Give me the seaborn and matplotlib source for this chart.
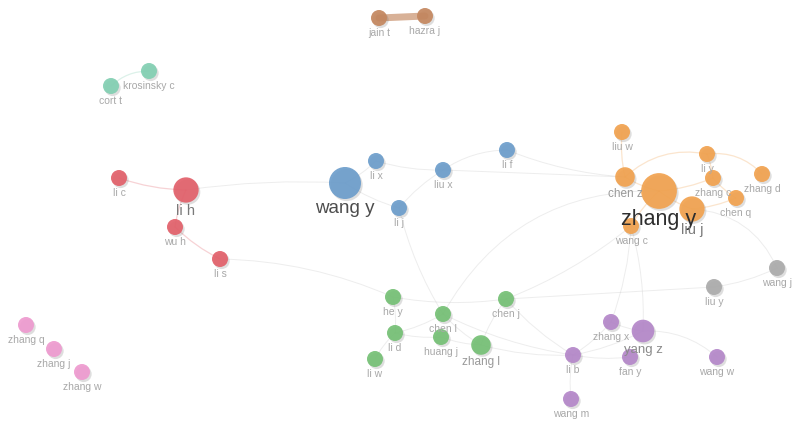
import numpy as np
import pandas as pd
import matplotlib
matplotlib.use("Agg")
import matplotlib.pyplot as plt
import matplotlib.patheffects as pe
from matplotlib.patches import FancyArrowPatch
import seaborn as sns

# co-authorship map, layout coordinates
names = [
    "liu w", "chen z", "zhang y", "liu j", "li y", "zhang c", "chen q", "zhang d", "wang c",
    "wang y", "li x", "liu x", "li f", "li j",
    "li c", "li h", "wu h", "li s",
    "he y", "chen l", "li d", "huang j", "zhang l", "li w", "chen j",
    "zhang x", "yang z", "li b", "fan y", "wang w", "wang m",
    "liu y", "wang j",
    "zhang q", "zhang j", "zhang w",
    "cort t", "krosinsky c",
    "jain t", "hazra j",
]
layout_x = [622, 625, 659, 692, 707, 713, 736, 762, 631,
            345, 376, 443, 507, 399,
            119, 186, 175, 220,
            393, 443, 395, 441, 481, 375, 506,
            611, 643, 573, 630, 717, 571,
            714, 777,
            26, 54, 82,
            111, 149,
            379, 425]
layout_y = [132, 177, 191, 209, 154, 178, 198, 174, 226,
            183, 161, 170, 150, 208,
            178, 190, 227, 259,
            297, 314, 333, 337, 345, 359, 299,
            322, 331, 355, 357, 357, 399,
            287, 268,
            325, 349, 372,
            86, 71,
            18, 16]
cluster = [1] * 9 + [2] * 5 + [3] * 4 + [4] * 7 + [5] * 6 + [6] * 2 + [7] * 3 + [8] * 2 + [9] * 2
weight = [2, 3, 10, 5, 2, 2, 2, 2, 2,
          8, 2, 2, 2, 2,
          2, 5, 2, 2,
          2, 2, 2, 2, 3, 2, 2,
          2, 4, 2, 2, 2, 2,
          2, 2,
          2, 2, 2,
          2, 2,
          2, 2]

links = [
    ("liu w", "chen z"), ("chen z", "zhang y"), ("zhang y", "liu j"), ("zhang y", "zhang c"),
    ("zhang c", "li y"), ("li y", "chen z"), ("zhang c", "chen q"), ("liu j", "chen q"),
    ("li y", "zhang d"), ("zhang y", "wang c"), ("liu j", "wang j"), ("liu y", "wang j"),
    ("wang y", "li x"), ("wang y", "li j"), ("li x", "liu x"), ("liu x", "li f"),
    ("liu x", "li j"), ("liu x", "chen z"), ("li f", "chen z"),
    ("li c", "li h"), ("li h", "wang y"), ("wu h", "li s"), ("li h", "wu h"),
    ("li s", "he y"), ("li j", "chen l"),
    ("he y", "chen j"), ("chen j", "liu y"), ("li d", "he y"), ("li d", "li w"),
    ("li d", "chen l"), ("li d", "huang j"), ("chen l", "zhang l"), ("huang j", "zhang l"),
    ("chen j", "zhang l"), ("chen j", "wang c"), ("chen l", "zhang y"), ("chen j", "li b"),
    ("zhang l", "li b"), ("chen l", "li b"),
    ("zhang x", "wang c"), ("yang z", "wang c"), ("yang z", "wang w"), ("li b", "zhang x"),
    ("li b", "yang z"), ("li b", "fan y"), ("li b", "wang m"), ("zhang x", "yang z"),
    ("cort t", "krosinsky c"), ("jain t", "hazra j"),
]
bend = {("li y", "chen z"): 0.25, ("li y", "zhang d"): -0.25, ("liu j", "wang j"): -0.3,
        ("chen l", "zhang y"): -0.3, ("liu x", "li f"): -0.15, ("li s", "he y"): -0.1,
        ("yang z", "wang w"): -0.2, ("li h", "wang y"): -0.05, ("cort t", "krosinsky c"): -0.2,
        ("jain t", "hazra j"): 0.0, ("liu x", "chen z"): 0.0, ("chen j", "liu y"): 0.0}

palette = {1: "#F1A24F", 2: "#6C9DCB", 3: "#E2606A", 4: "#75C075", 5: "#B487C9",
           6: "#ABABAB", 7: "#EE9ACF", 8: "#82CFB2", 9: "#C4875F"}

df = pd.DataFrame({"name": names, "x": layout_x, "y": layout_y,
                   "cluster": cluster, "weight": weight})
pos = df.set_index("name")

sns.set_theme(style="white")
plt.rcParams["font.family"] = ["Liberation Sans", "DejaVu Sans"]

fig = plt.figure(figsize=(7.97, 4.22), dpi=100)
ax = fig.add_axes([0, 0, 1, 1])

# links first so nodes sit on top
for a, b in links:
    ca, cb = pos.loc[a, "cluster"], pos.loc[b, "cluster"]
    if ca == cb == 9:
        col, lw, al = palette[9], 5, 0.65
    elif ca == cb and ca in (3, 1, 8):
        col, lw, al = palette[ca], 0.9, 0.28
    else:
        col, lw, al = "#cccccc", 0.7, 0.35
    patch = FancyArrowPatch((pos.loc[a, "x"], pos.loc[a, "y"]), (pos.loc[b, "x"], pos.loc[b, "y"]),
                            connectionstyle=f"arc3,rad={bend.get((a, b), 0.08)}",
                            arrowstyle="-", color=col, lw=lw, alpha=al,
                            shrinkA=0, shrinkB=0, zorder=1)
    ax.add_patch(patch)

# area ~ weight, r=8px for weight 2
sns.scatterplot(data=df, x="x", y="y", hue="cluster", palette=palette,
                size="weight", sizes=(66.4 * 2, 66.4 * 10), size_norm=(2, 10),
                edgecolor="none", alpha=0.92, legend=False, ax=ax, zorder=2)
ax.collections[-1].set_path_effects([
    pe.SimplePatchShadow(offset=(1.2, -1.5), shadow_rgbFace=(0.3, 0.3, 0.3), alpha=0.18),
    pe.Normal()])

for _, r in df.iterrows():
    w = r["weight"]
    fs = 5.5 + w
    rad = 8 * np.sqrt(w / 2)
    shade = max(0.07, 0.66 - 0.06 * (w - 2))
    ax.text(r["x"], r["y"] + rad + 0.35 * fs / 0.72 + 3, r["name"], fontsize=fs,
            color=(shade, shade, shade), ha="center", va="center", zorder=3)

ax.set_xlim(0, 797)
ax.set_ylim(422, 0)
ax.axis("off")
fig.savefig("out.png", dpi=100, facecolor="white")
